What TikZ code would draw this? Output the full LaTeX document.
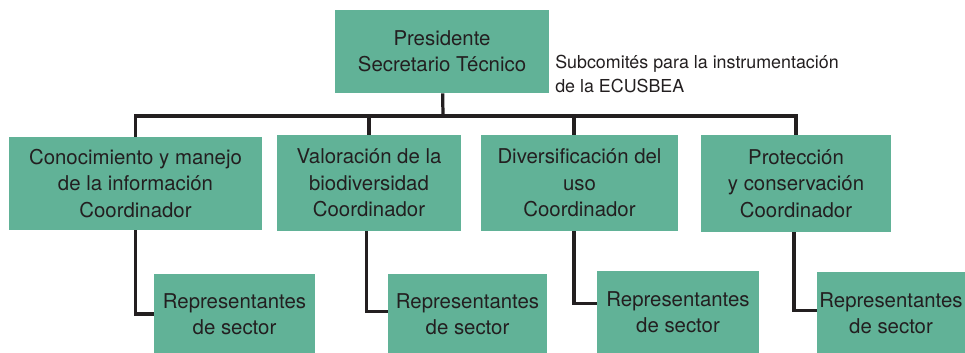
\documentclass[tikz,border=0pt]{standalone}
\usepackage{fontspec}
\setmainfont{TeX Gyre Heros}
\usetikzlibrary{positioning,calc}
\definecolor{verde}{RGB}{97,178,151}
\definecolor{tinta}{RGB}{35,31,32}

\begin{document}
\begin{tikzpicture}[x=0.025cm,y=-0.025cm,
  caja/.style={fill=verde,text=tinta,align=center,inner sep=0pt,
    font=\fontsize{14.5}{18.8}\selectfont},
  nota/.style={text=tinta,align=left,inner sep=0pt,
    font=\fontsize{12.7}{16.4}\selectfont},
  linea/.style={draw=tinta,line width=2.3pt}]

  \useasboundingbox (0,0) rectangle (965,353);

  \node[caja] (pres) [minimum width=5.35cm,minimum height=2.075cm] at (442,51.5) {Presidente\\Secretario Técnico};
  \node[nota] (sub) [anchor=west] at (555,74) {Subcomités para la instrumentación\\de la ECUSBEA};

  \node[caja] (c1) [minimum width=6.325cm,minimum height=2.325cm] at (135.5,183.5) {Conocimiento y manejo\\de la información\\Coordinador};
  \node[caja] (c2) [minimum width=4.6cm,minimum height=2.4cm] at (369,183) {Valoración de la\\biodiversidad\\Coordinador};
  \node[caja] (c3) [minimum width=4.925cm,minimum height=2.4cm] at (579.5,183) {Diversificación del\\uso\\Coordinador};
  \node[caja] (c4) [minimum width=4.75cm,minimum height=2.425cm] at (796,183.5) {Protección\\y conservación\\Coordinador};

  \node[caja] (r1) [minimum width=4.025cm,minimum height=1.975cm] at (234.5,314) {Representantes\\de sector};
  \node[caja] (r2) [minimum width=3.975cm,minimum height=1.975cm] at (467.5,314) {Representantes\\de sector};
  \node[caja] (r3) [minimum width=4.05cm,minimum height=2.05cm] at (678,312.5) {Representantes\\de sector};
  \node[caja] (r4) [minimum width=3.7cm,minimum height=2.025cm] at (891,313) {Representantes\\de sector};

  \coordinate (bus) at (443,116);

  \draw[linea] (pres) -- (bus);
  \draw[linea] (c1.north) |- (bus) -| (c4.north);
  \draw[linea] (c2.north) -- (c2.north |- bus);
  \draw[linea] ([xshift=-4pt]c3.north) -- ([xshift=-4pt]c3.north |- bus);

  \draw[linea] (c1.south) |- (r1.west);
  \draw[linea] ([xshift=-2pt]c2.south) |- ([yshift=2pt]r2.west);
  \draw[linea] ([xshift=-4pt]c3.south) |- ([yshift=6.4pt]r3.west);
  \draw[linea] ([xshift=-1.5pt]c4.south) |- ([yshift=2pt]r4.west);

\end{tikzpicture}
\end{document}
